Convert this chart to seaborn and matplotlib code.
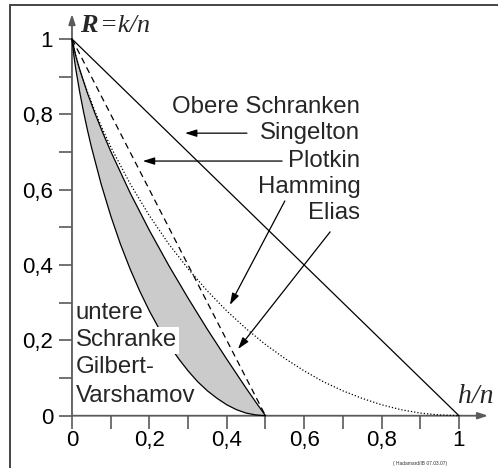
import numpy as np
import matplotlib
matplotlib.use("Agg")
import matplotlib.pyplot as plt
from matplotlib.patches import Rectangle
import seaborn as sns

# bounds (x = h/n, y = R = k/n)
singleton_x = [0.0, 1.0]
singleton_y = [1.0, 0.0]

plotkin_x = [0.0, 0.5]
plotkin_y = [1.0, 0.0]

hamming_x = [0.0, 0.01, 0.02, 0.04, 0.06, 0.08, 0.1, 0.15, 0.2, 0.25, 0.3, 0.35, 0.4,
             0.45, 0.5, 0.55, 0.6, 0.65, 0.7, 0.75, 0.8, 0.85, 0.9, 0.95, 1.0]
hamming_y = [1.0, 0.955, 0.919, 0.859, 0.806, 0.758, 0.714, 0.616, 0.531, 0.456, 0.390, 0.331, 0.278,
             0.231, 0.189, 0.152, 0.119, 0.090, 0.066, 0.046, 0.029, 0.016, 0.007, 0.002, 0.0]

elias_x = [0.0, 0.01, 0.02, 0.04, 0.06, 0.08, 0.1, 0.15, 0.2, 0.25, 0.3, 0.35, 0.4, 0.45, 0.475, 0.5]
elias_y = [1.0, 0.954, 0.919, 0.856, 0.801, 0.750, 0.702, 0.592, 0.492, 0.399, 0.312, 0.229, 0.150,
           0.073, 0.036, 0.0]

gv_x = [0.0, 0.005, 0.01, 0.02, 0.03, 0.04, 0.05, 0.075, 0.1, 0.125, 0.15, 0.175, 0.2, 0.225,
        0.25, 0.275, 0.3, 0.325, 0.35, 0.375, 0.4, 0.425, 0.45, 0.475, 0.5]
gv_y = [1.0, 0.955, 0.919, 0.859, 0.806, 0.758, 0.714, 0.616, 0.531, 0.456, 0.390, 0.331, 0.278, 0.231,
        0.189, 0.152, 0.119, 0.090, 0.066, 0.046, 0.029, 0.016, 0.007, 0.002, 0.0]

major_ticks = [0.0, 0.2, 0.4, 0.6, 0.8, 1.0]
minor_ticks = [0.1, 0.3, 0.5, 0.7, 0.9]
tick_labels = ["0", "0,2", "0,4", "0,6", "0,8", "1"]

sns.set_style("white")
plt.rcParams["font.family"] = ["Liberation Sans", "DejaVu Sans"]

fig = plt.figure(figsize=(4.98, 4.68), dpi=100)
ax = fig.add_axes([0, 0, 1, 1])
ax.set_xlim(-0.186, 1.1008)
ax.set_ylim(-0.1388, 1.1035)
ax.patch.set_alpha(0)

# shaded area between Gilbert-Varshamov and Elias
ax.fill(np.concatenate([elias_x, gv_x[::-1]]), np.concatenate([elias_y, gv_y[::-1]]),
        color="#cbcbcb", lw=0, zorder=1)

lw = 0.9
sns.lineplot(x=gv_x, y=gv_y, ax=ax, color="black", lw=lw, sort=False, estimator=None, zorder=3)
sns.lineplot(x=elias_x, y=elias_y, ax=ax, color="black", lw=lw, sort=False, estimator=None, zorder=3)
sns.lineplot(x=singleton_x, y=singleton_y, ax=ax, color="black", lw=lw, sort=False, estimator=None, zorder=3)
sns.lineplot(x=plotkin_x, y=plotkin_y, ax=ax, color="black", lw=lw, sort=False, estimator=None,
             zorder=3).lines[-1].set_dashes((5, 3.5))
sns.lineplot(x=hamming_x, y=hamming_y, ax=ax, color="black", lw=lw, sort=False, estimator=None,
             zorder=3).lines[-1].set_dashes((1, 1.6))

# axes with arrows
axis_col = "#5a5a5a"
for s in ax.spines.values():
    s.set_visible(False)
head = "-|>,head_length=0.6,head_width=0.2"
ax.annotate("", xy=(1.075, 0), xytext=(0, 0),
            arrowprops=dict(arrowstyle=head, color=axis_col, lw=1.3, shrinkA=0, shrinkB=0), zorder=2)
ax.annotate("", xy=(0, 1.066), xytext=(0, 0),
            arrowprops=dict(arrowstyle=head, color=axis_col, lw=1.3, shrinkA=0, shrinkB=0), zorder=2)

ax.set_xticks(major_ticks)
ax.set_xticks(minor_ticks, minor=True)
ax.set_xticklabels(tick_labels, fontweight="bold")
ax.set_yticks(major_ticks)
ax.set_yticks(minor_ticks, minor=True)
ax.set_yticklabels(tick_labels, fontweight="bold")
ax.tick_params(which="both", direction="out", length=9.5, width=1.2, color=axis_col,
               bottom=True, left=True, labelsize=16, labelcolor="black")
ax.tick_params(axis="x", which="major", pad=1)
ax.tick_params(axis="y", which="major", pad=4)
ax.xaxis.set_ticks_position("bottom")
ax.yaxis.set_ticks_position("left")
ax.spines["bottom"].set_position(("data", 0))
ax.spines["left"].set_position(("data", 0))

# axis names
serif = ["Liberation Serif"]
ax.text(0.022, 1.035, "R", fontsize=19, family=serif, style="italic", fontweight="bold",
        va="center", ha="left")
ax.text(0.072, 1.035, "=k/n", fontsize=19, family=serif, style="italic", va="center", ha="left")
ax.text(0.997, 0.05, "h/n", fontsize=20, family=serif, style="italic", va="center", ha="left")

# labels on the right
right_labels = ["Obere Schranken", "Singelton", "Plotkin", "Hamming", "Elias"]
right_y = [0.819, 0.750, 0.677, 0.608, 0.538]
for txt, yy in zip(right_labels, right_y):
    ax.text(0.745, yy, txt, fontsize=17.3, ha="right", va="center")

# labels on the left
left_labels = ["untere", "Schranke", "Gilbert-", "Varshamov"]
left_y = [0.272, 0.200, 0.130, 0.053]
for txt, yy in zip(left_labels, left_y):
    bb = dict(fc="white", ec="none", pad=1.5) if txt == "Schranke" else None
    ax.text(0.01, yy, txt, fontsize=17.3, ha="left", va="center", bbox=bb, zorder=4)

# arrows pointing at the curves
arrow_kw = dict(arrowstyle="-|>,head_length=0.7,head_width=0.22", color="black", lw=0.9,
                shrinkA=0, shrinkB=0, mutation_scale=10)
arrows = [((0.452, 0.750), (0.292, 0.750)),
          ((0.543, 0.676), (0.183, 0.676)),
          ((0.550, 0.570), (0.408, 0.294)),
          ((0.667, 0.488), (0.429, 0.177))]
for tail, tip in arrows:
    ax.annotate("", xy=tip, xytext=tail, arrowprops=arrow_kw, zorder=5)

# frame and tiny footer
fig.patches.append(Rectangle((10 / 498, -0.1), 1.2, 1 - 5 / 468 + 0.1, transform=fig.transFigure,
                             fill=False, ec="#444444", lw=1.4))
fig.text(0.79, 0.006, "( Hadamard/IB 07.03.07)", fontsize=3.5, color="#333333")

fig.savefig("out.png", dpi=100)
